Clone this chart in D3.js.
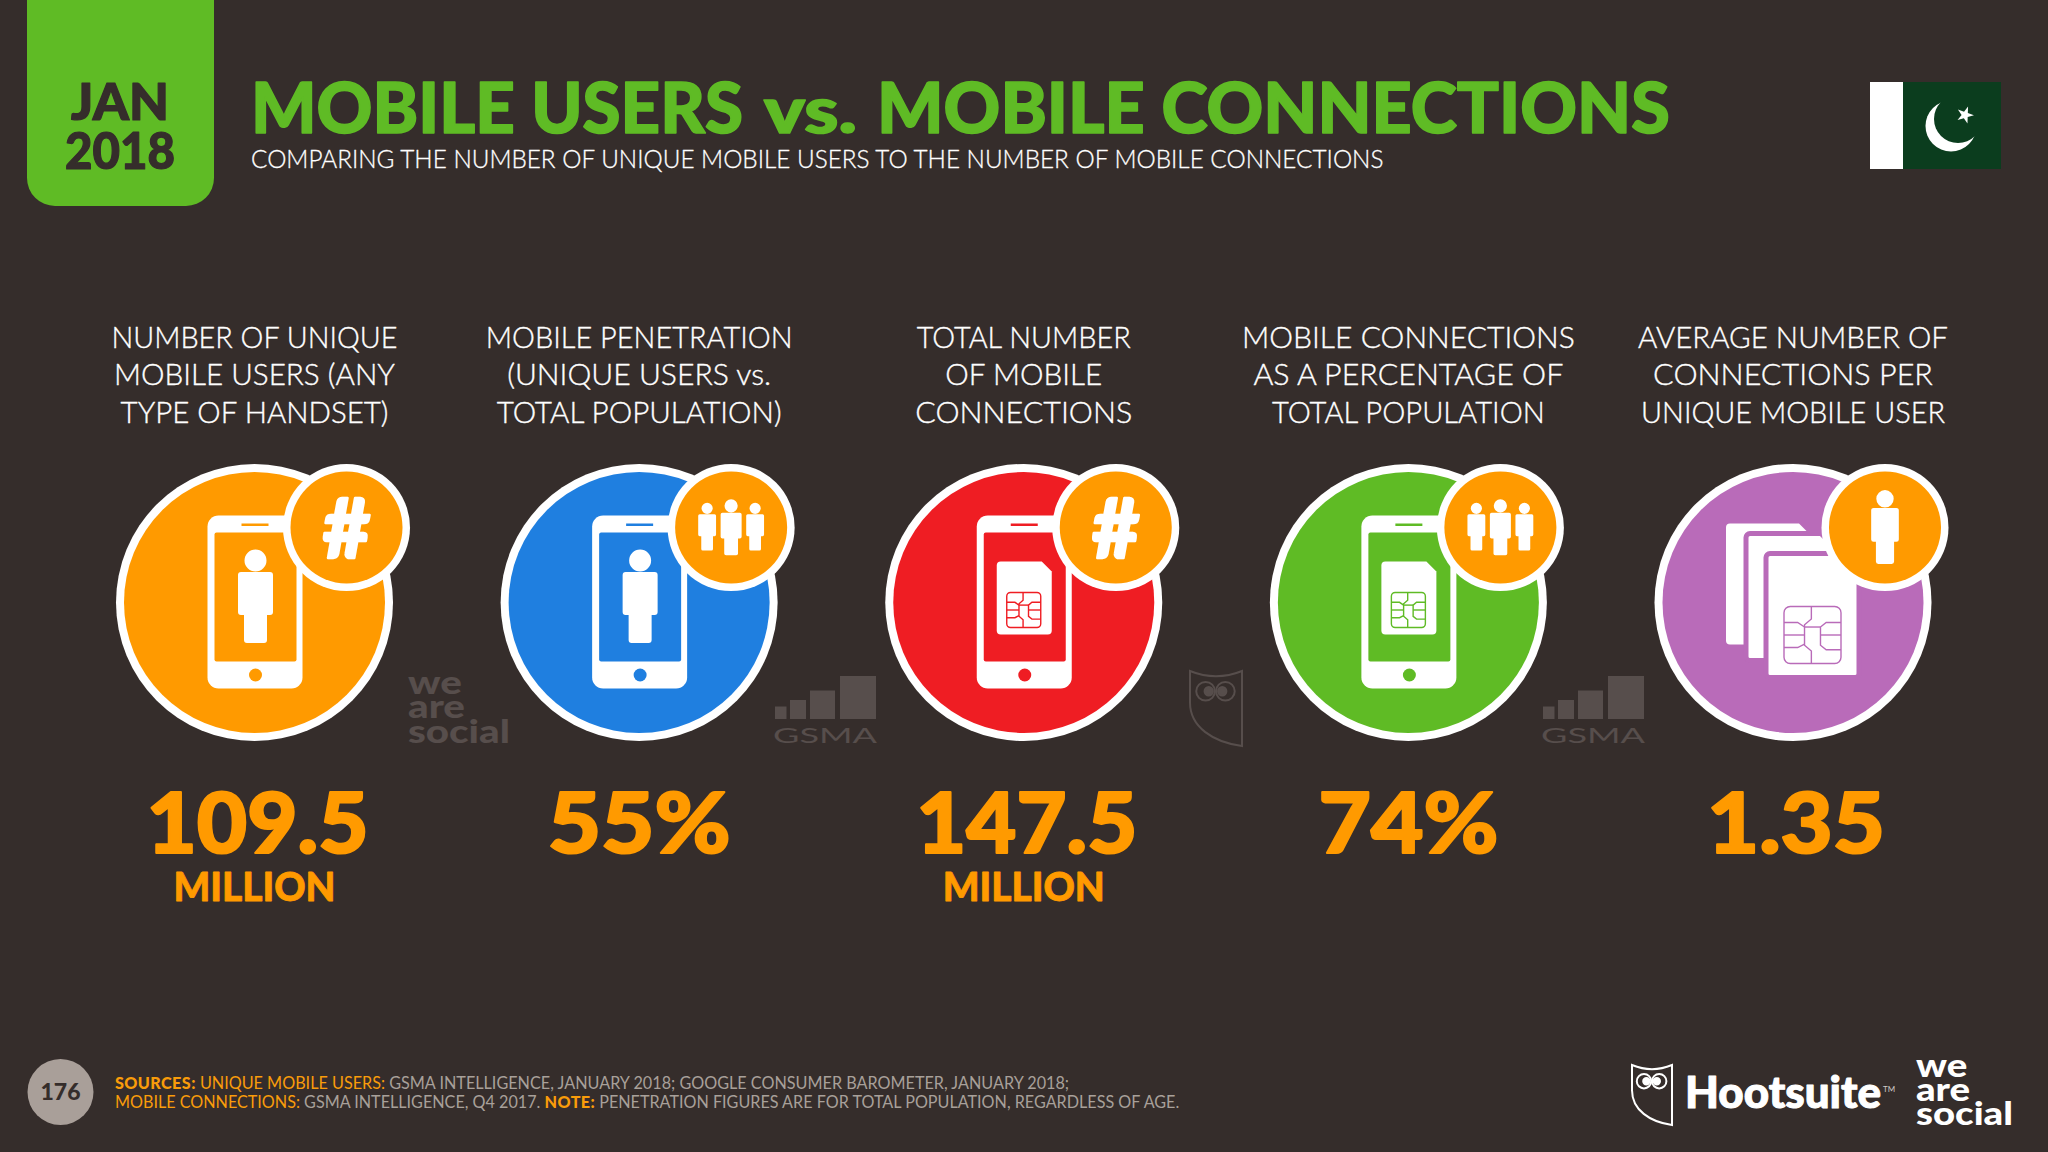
<!DOCTYPE html>
<html>
<head>
<meta charset="utf-8">
<script src="https://cdn.jsdelivr.net/npm/d3@7"></script>
<style>
    html, body { margin: 0; padding: 0; background: #352d2b; }
    svg { display: block; }
    text { font-family: Lato, sans-serif; }
</style>
</head>
<body>
<div id="chart"></div>
<script>
(function () {
    'use strict';

    var categories = ['unique users', 'penetration', 'connections', 'connections pct', 'per user'];
    var headlines = [
        ['NUMBER OF UNIQUE', 'MOBILE USERS (ANY', 'TYPE OF HANDSET)'],
        ['MOBILE PENETRATION', '(UNIQUE USERS vs.', 'TOTAL POPULATION)'],
        ['TOTAL NUMBER', 'OF MOBILE', 'CONNECTIONS'],
        ['MOBILE CONNECTIONS', 'AS A PERCENTAGE OF', 'TOTAL POPULATION'],
        ['AVERAGE NUMBER OF', 'CONNECTIONS PER', 'UNIQUE MOBILE USER']
    ];
    var values = [109.5, 55, 147.5, 74, 1.35];
    var suffixes = ['', '%', '', '%', ''];
    var units = ['MILLION', '', 'MILLION', '', ''];
    var circleColors = ['#ff9a00', '#1f7fe0', '#ef1d23', '#5fbb25', '#b96bb9'];
    var centerIcons = ['person', 'person', 'sim', 'sim', 'stack'];
    var badgeIcons = ['hash', 'people', 'hash', 'people', 'person'];

    var footLine1 = [
        ['SOURCES:', 'strong'], [' UNIQUE MOBILE USERS:', 'accent'],
        [' GSMA INTELLIGENCE, JANUARY 2018; GOOGLE CONSUMER BAROMETER, JANUARY 2018;', 'plain']
    ];
    var footLine2 = [
        ['MOBILE CONNECTIONS:', 'accent'], [' GSMA INTELLIGENCE, Q4 2017.', 'plain'],
        [' NOTE:', 'strong'], [' PENETRATION FIGURES ARE FOR TOTAL POPULATION, REGARDLESS OF AGE.', 'plain']
    ];

    var width = 2048, height = 1152;
    var bg = '#352d2b', green = '#5fbb25', orange = '#ff9a00', faint = '#574e4c';

    var svg = d3.select('#chart').append('svg').attr('width', width).attr('height', height);
    svg.append('rect').attr('width', width).attr('height', height).attr('fill', bg);

    // squeeze a text to the width it has in the slide, the fonts here run wider
    function fit(sel, x, y, target) {
        var natural = sel.node().getComputedTextLength();
        sel.attr('transform', 'translate(' + x + ',' + y + ') scale(' + (target / natural) + ',1)');
        return sel;
    }

    function label(parent, str, size, weight, fill, anchor) {
        return parent.append('text').text(str)
            .attr('font-size', size).attr('font-weight', weight)
            .attr('fill', fill).attr('text-anchor', anchor || 'start');
    }

    // the slide's display face is heavier than any weight installed
    function heavy(sel, w) {
        return sel.attr('stroke', sel.attr('fill')).attr('stroke-width', w).attr('stroke-linejoin', 'round');
    }

    // header
    var tabPath = d3.path();
    tabPath.moveTo(27, 0);
    tabPath.lineTo(214, 0);
    tabPath.lineTo(214, 178);
    tabPath.arcTo(214, 206, 186, 206, 28);
    tabPath.lineTo(55, 206);
    tabPath.arcTo(27, 206, 27, 178, 28);
    tabPath.closePath();
    svg.append('path').attr('d', tabPath.toString()).attr('fill', green);
    heavy(fit(label(svg, 'JAN', 51, 900, bg, 'middle'), 120, 120, 98), 1.2);
    heavy(fit(label(svg, '2018', 51, 900, bg, 'middle'), 120, 169, 110), 1.2);

    heavy(fit(label(svg, 'MOBILE USERS', 71, 900, green), 251, 133, 492), 1.6);
    heavy(fit(label(svg, 'vs.', 62, 900, green), 764, 133, 93), 1.6);
    heavy(fit(label(svg, 'MOBILE CONNECTIONS', 71, 900, green), 877, 133, 793), 1.6);
    heavy(fit(label(svg, 'COMPARING THE NUMBER OF UNIQUE MOBILE USERS TO THE NUMBER OF MOBILE CONNECTIONS', 25, 300, '#fff'),
        251, 168, 1133), 0.3);

    // flag
    var flag = svg.append('g').attr('transform', 'translate(1870,82)');
    flag.append('rect').attr('width', 131).attr('height', 87).attr('fill', '#0b3d1e');
    flag.append('rect').attr('width', 33).attr('height', 87).attr('fill', '#fff');
    var mask = svg.append('defs').append('mask').attr('id', 'crescent');
    mask.append('rect').attr('width', 131).attr('height', 87).attr('fill', '#000');
    mask.append('circle').attr('cx', 81).attr('cy', 44).attr('r', 25.5).attr('fill', '#fff');
    mask.append('circle').attr('cx', 88).attr('cy', 37).attr('r', 24).attr('fill', '#000');
    flag.append('rect').attr('width', 131).attr('height', 87).attr('fill', '#fff').attr('mask', 'url(#crescent)');
    flag.append('path').attr('d', d3.symbol().type(d3.symbolStar).size(90)()).attr('fill', '#fff')
        .attr('transform', 'translate(95,33) rotate(20)');

    // icon parts, all drawn around the given point
    function personPath(cx, top, k) {
        var p = d3.path();
        p.moveTo(cx + 11 * k, top + 10.5 * k);
        p.arc(cx, top + 10.5 * k, 11 * k, 0, 2 * Math.PI);
        var l = cx - 17.5 * k, r = cx + 17.5 * k, t = top + 22 * k, b = top + 65 * k, c = 3 * k;
        p.moveTo(l + c, t);
        p.lineTo(r - c, t);
        p.arcTo(r, t, r, t + c, c);
        p.lineTo(r, b - c);
        p.arcTo(r, b, r - c, b, c);
        p.lineTo(cx + 11.5 * k, b);
        p.lineTo(cx + 11.5 * k, top + 90 * k);
        p.arcTo(cx + 11.5 * k, top + 93 * k, cx + 8.5 * k, top + 93 * k, c);
        p.lineTo(cx - 8.5 * k, top + 93 * k);
        p.arcTo(cx - 11.5 * k, top + 93 * k, cx - 11.5 * k, top + 90 * k, c);
        p.lineTo(cx - 11.5 * k, b);
        p.lineTo(l + c, b);
        p.arcTo(l, b, l, b - c, c);
        p.lineTo(l, t + c);
        p.arcTo(l, t, l + c, t, c);
        p.closePath();
        return p.toString();
    }

    function simPath(x0, y0, x1, y1, cut) {
        var p = d3.path(), c = 4;
        p.moveTo(x0 + c, y0);
        p.lineTo(x1 - cut, y0);
        p.lineTo(x1, y0 + cut);
        p.lineTo(x1, y1 - c);
        p.arcTo(x1, y1, x1 - c, y1, c);
        p.lineTo(x0 + c, y1);
        p.arcTo(x0, y1, x0, y1 - c, c);
        p.lineTo(x0, y0 + c);
        p.arcTo(x0, y0, x0 + c, y0, c);
        p.closePath();
        return p.toString();
    }

    function drawChip(g, x, y, w, h, color) {
        var sx = d3.scaleLinear().domain([0, 100]).range([x, x + w]);
        var sy = d3.scaleLinear().domain([0, 100]).range([y, y + h]);
        var chip = g.append('g').attr('fill', 'none').attr('stroke', color).attr('stroke-width', 1.4);
        chip.append('rect').attr('x', x).attr('y', y).attr('width', w).attr('height', h).attr('rx', w * 0.11);
        var wires = [
            [[48, 0], [48, 22], [36, 32], [36, 68], [48, 78], [48, 100]],
            [[0, 28], [24, 28], [36, 36]],
            [[0, 50], [36, 50]],
            [[0, 72], [24, 72], [36, 66]],
            [[100, 28], [74, 28], [64, 36], [64, 68], [74, 76], [100, 76]],
            [[64, 50], [100, 50]],
            [[36, 36], [48, 36], [64, 36]]
        ];
        var line = d3.line().x(function (d) { return sx(d[0]); }).y(function (d) { return sy(d[1]); });
        chip.selectAll('path').data(wires).enter().append('path').attr('d', line);
    }

    function drawPhone(g, color, inner) {
        g.append('rect').attr('x', -47).attr('y', -87).attr('width', 95).attr('height', 173)
            .attr('rx', 11).attr('fill', '#fff');
        g.append('rect').attr('x', -40).attr('y', -70).attr('width', 82).attr('height', 129)
            .attr('rx', 2).attr('fill', color);
        g.append('rect').attr('x', -13).attr('y', -79).attr('width', 27).attr('height', 2.5).attr('fill', color);
        g.append('circle').attr('cx', 1).attr('cy', 72.5).attr('r', 6.5).attr('fill', color);
        if (inner === 'person') {
            g.append('path').attr('d', personPath(1, -52.5, 1)).attr('fill', '#fff');
        } else {
            g.append('path').attr('d', simPath(-27, -41, 28, 32, 10)).attr('fill', '#fff');
            drawChip(g, -17, -10, 34, 35, color);
        }
    }

    function drawStack(g, color) {
        g.append('path').attr('d', simPath(-67, -79, 18, 42, 12)).attr('fill', '#fff');
        g.append('path').attr('d', simPath(-47, -69, 40, 58, 12)).attr('fill', '#fff')
            .attr('stroke', color).attr('stroke-width', 5);
        g.append('path').attr('d', simPath(-27, -49, 66, 75, 12)).attr('fill', '#fff')
            .attr('stroke', color).attr('stroke-width', 5);
        drawChip(g, -9, 4, 57, 57, color);
    }

    function drawBadge(g, kind) {
        var b = g.append('g').attr('transform', 'translate(92,-75)');
        b.append('circle').attr('r', 63.5).attr('fill', '#fff');
        b.append('circle').attr('r', 56).attr('fill', orange);
        if (kind === 'hash') {
            heavy(b.append('text').text('#').attr('text-anchor', 'middle').attr('y', 30)
                .attr('font-family', 'Inter, Lato, sans-serif')
                .attr('font-size', 82).attr('font-weight', 900).attr('fill', '#fff'), 2.5);
        } else if (kind === 'people') {
            b.append('path').attr('d', personPath(-24, -24.5, 0.51)).attr('fill', '#fff');
            b.append('path').attr('d', personPath(24, -24.5, 0.51)).attr('fill', '#fff');
            b.append('path').attr('d', personPath(0, -28, 0.6)).attr('fill', '#fff');
        } else {
            b.append('path').attr('d', personPath(0, -37, 0.79)).attr('fill', '#fff');
        }
    }

    // the slide font has its own rhythm, so the heading and number widths are taken per string
    function lineWidth(line) {
        return { 'NUMBER OF UNIQUE': 286, 'MOBILE USERS (ANY': 281, 'TYPE OF HANDSET)': 268,
            'MOBILE PENETRATION': 307, '(UNIQUE USERS vs.': 264, 'TOTAL POPULATION)': 285,
            'TOTAL NUMBER': 214, 'OF MOBILE': 157, 'CONNECTIONS': 217,
            'MOBILE CONNECTIONS': 333, 'AS A PERCENTAGE OF': 310, 'TOTAL POPULATION': 273,
            'AVERAGE NUMBER OF': 310, 'CONNECTIONS PER': 280, 'UNIQUE MOBILE USER': 304 }[line];
    }

    function kpiWidth(str) {
        return { '109.5': 222, '55%': 183, '147.5': 221, '74%': 180, '1.35': 178 }[str];
    }

    var x = d3.scalePoint().domain(categories).range([254.5, 1793]);
    var cy = 602.5;

    var columns = svg.selectAll('.column')
        .data(categories)
        .enter()
        .append('g')
        .attr('class', 'column');

    columns.each(function (cat, i) {
        var col = d3.select(this);
        var cx = x(cat);

        // three lines of heading
        headlines[i].forEach(function (line, j) {
            heavy(fit(label(col, line, 29, 300, '#fff', 'middle'), cx, 348 + j * 37.4, lineWidth(line)), 0.35);
        });

        var icon = col.append('g').attr('transform', 'translate(' + cx + ',' + cy + ')');
        icon.append('circle').attr('r', 138.5).attr('fill', '#fff');
        icon.append('circle').attr('r', 130.5).attr('fill', circleColors[i]);
        if (centerIcons[i] === 'stack') {
            drawStack(icon, circleColors[i]);
        } else {
            drawPhone(icon, circleColors[i], centerIcons[i]);
        }
        drawBadge(icon, badgeIcons[i]);

        var kpi = values[i] + suffixes[i];
        heavy(fit(label(col, kpi, 84, 900, orange, 'middle'), suffixes[i] ? cx : cx + 3, 853, kpiWidth(kpi)), 2.2);
        if (units[i]) {
            heavy(fit(label(col, units[i], 40, 900, orange, 'middle'), cx, 901, 162), 0.8);
        }
    });

    // faint source marks
    function socialLength(size) {
        var probe = svg.append('text').text('social').attr('font-size', size).attr('font-weight', 900)
            .attr('font-family', 'Inter, Lato, sans-serif');
        var len = probe.node().getComputedTextLength();
        probe.remove();
        return len;
    }

    function weAreSocial(parent, px, baselines, size, fill, target) {
        ['we', 'are', 'social'].forEach(function (word, i) {
            var t = parent.append('text').text(word)
                .attr('font-size', size).attr('font-weight', 900)
                .attr('font-family', 'Inter, Lato, sans-serif').attr('fill', fill);
            fit(t, px, baselines[i], target * t.node().getComputedTextLength() / socialLength(size));
        });
    }

    function gsmaMark(px) {
        var g = svg.append('g').attr('transform', 'translate(' + px + ',0)');
        var bars = [[0, 11.5, 706.5], [15, 16, 700], [35, 25, 690.5], [65, 36, 676]];
        g.selectAll('rect').data(bars).enter().append('rect')
            .attr('x', function (d) { return d[0]; })
            .attr('y', function (d) { return d[2]; })
            .attr('width', function (d) { return d[1]; })
            .attr('height', function (d) { return 719 - d[2]; })
            .attr('fill', faint);
        fit(label(g, 'GSMA', 21, 400, faint), -2, 743, 104);
    }

    function owlMark(parent, px, py, w, h, color) {
        var g = parent.append('g').attr('transform', 'translate(' + px + ',' + py + ')')
            .attr('fill', 'none').attr('stroke', color).attr('stroke-width', 2);
        var p = d3.path();
        p.moveTo(0, 0);
        p.quadraticCurveTo(w * 0.25, h * 0.07, w * 0.5, h * 0.07);
        p.quadraticCurveTo(w * 0.75, h * 0.07, w, 0);
        p.lineTo(w, h);
        p.bezierCurveTo(w * 0.45, h * 0.95, 0, h * 0.75, 0, h * 0.42);
        p.closePath();
        g.append('path').attr('d', p.toString());
        g.append('circle').attr('cx', w * 0.3).attr('cy', h * 0.27).attr('r', w * 0.18);
        g.append('circle').attr('cx', w * 0.68).attr('cy', h * 0.27).attr('r', w * 0.18);
        g.append('circle').attr('cx', w * 0.36).attr('cy', h * 0.27).attr('r', w * 0.08).attr('fill', color);
        g.append('circle').attr('cx', w * 0.62).attr('cy', h * 0.27).attr('r', w * 0.08).attr('fill', color);
    }

    weAreSocial(svg, 408, [694, 718, 742.5], 33, faint, 102);
    gsmaMark(775);
    owlMark(svg, 1190, 671, 52, 75, faint);
    gsmaMark(1543);

    // footer
    svg.append('circle').attr('cx', 60.5).attr('cy', 1092).attr('r', 33).attr('fill', '#a99f99');
    label(svg, '176', 23, 900, bg, 'middle').attr('x', 60.5).attr('y', 1100);

    var footFill = { strong: '#f99c0a', accent: '#f99c0a', plain: '#a8a09a' };
    function footLine(parts, yPos, target) {
        var t = svg.append('text').attr('font-size', 16.5).style('white-space', 'pre');
        parts.forEach(function (part) {
            t.append('tspan').text(part[0])
                .attr('fill', footFill[part[1]])
                .attr('letter-spacing', part[1] === 'strong' ? 0.4 : 0)
                .attr('font-weight', part[1] === 'strong' ? 900 : 400);
        });
        fit(t, 115, yPos, target);
    }
    footLine(footLine1, 1089, 955);
    footLine(footLine2, 1108, 1065);

    // logos
    owlMark(svg, 1632, 1065, 40, 60, '#fff');
    heavy(fit(label(svg, 'Hootsuite', 43, 900, '#fff'), 1685, 1108, 196), 1);
    label(svg, 'TM', 8, 400, '#cfcac8').attr('x', 1883).attr('y', 1092);
    weAreSocial(svg, 1916, [1077, 1101, 1124.5], 33, '#fff', 97);
})();
</script>
</body>
</html>
